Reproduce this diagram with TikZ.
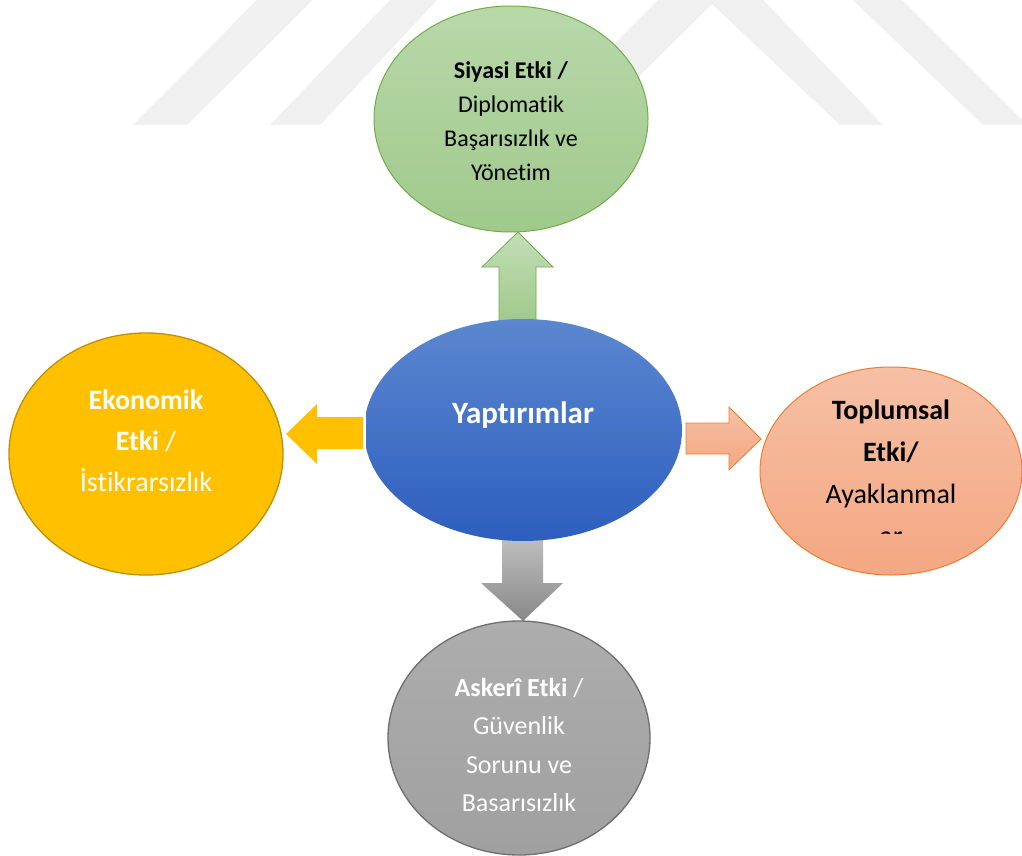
\documentclass[tikz,border=0pt]{standalone}
\usepackage{fontspec}
\setmainfont{Carlito}[Ligatures={NoCommon}]
\usetikzlibrary{shapes.geometric}
\definecolor{wm}{RGB}{240,240,240}
\definecolor{gTop}{HTML}{B8D8AA}
\definecolor{gBot}{HTML}{A0C98B}
\definecolor{gLine}{HTML}{70AD47}
\definecolor{yFill}{HTML}{FFC000}
\definecolor{yLine}{HTML}{BD9008}
\definecolor{oTop}{HTML}{F6C0A4}
\definecolor{oBot}{HTML}{F4A782}
\definecolor{oLine}{HTML}{ED7D31}
\definecolor{kTop}{HTML}{ADADAD}
\definecolor{kBot}{HTML}{A0A0A0}
\definecolor{kLine}{HTML}{6E6E6E}
\definecolor{bTop}{HTML}{5B87D0}
\definecolor{bBot}{HTML}{2E5EBE}
\definecolor{bLine}{HTML}{4472C4}
\begin{document}
\begin{tikzpicture}[x=1pt,y=-1pt,
  bubble/.style={ellipse, inner sep=0pt, outer sep=0pt, line width=1pt},
  label/.style={align=center, inner sep=0pt},
  blockarrow/.style={line width=0.8pt, line join=miter}]
\fill[white] (0,0) rectangle (1022,856);
\useasboundingbox (0,0) rectangle (1022,856);
% watermark
\fill[wm] (133,125) -- (257,0) -- (313,0) -- (187,125) -- cycle;
\fill[wm] (270,125) -- (390,0) -- (437,0) -- (320,125) -- cycle;
\fill[wm] (533,125) -- (658,0) -- (763,0) -- (883,125) -- (840,125) -- (712,4) -- (590,125) -- cycle;
\fill[wm] (853,0) -- (902,0) -- (1022,120) -- (1022,125) -- (983,125) -- cycle;
% block arrows
\draw[blockarrow, draw=gLine, top color=gTop!85!white, bottom color=gBot]
  (499,322) -- (499,267) -- (482,267) -- (518,232) -- (553,267) -- (536,267) -- (536,322) -- cycle;
\fill[yFill] (363,417) -- (317,417) -- (317,404) -- (286,434) -- (317,464) -- (317,449) -- (363,449) -- cycle;
\draw[blockarrow, draw=oLine, top color=oTop, bottom color=oBot]
  (686,423) -- (729,423) -- (729,407) -- (761,439) -- (729,470) -- (729,454) -- (686,454) -- cycle;
\shade[top color=kTop!80!white, bottom color=kBot!85!black]
  (502,540) -- (502,583) -- (481,583) -- (523,621) -- (563,583) -- (543,583) -- (543,540) -- cycle;
% ellipses
\node[bubble, minimum width=274pt, minimum height=226pt, draw=gLine, top color=gTop, bottom color=gBot] (siyasi) at (511,119) {};
\node[bubble, minimum width=274pt, minimum height=242pt, draw=yLine, fill=yFill, line width=1.3pt] (ekonomik) at (146,454) {};
\node[bubble, minimum width=262pt, minimum height=208pt, draw=oLine, top color=oTop, bottom color=oBot] (toplumsal) at (891,471) {};
\node[bubble, minimum width=262pt, minimum height=234pt, draw=kLine, top color=kTop, bottom color=kBot, line width=1.3pt] (askeri) at (519,738) {};
\begin{scope}
  \clip (366,300) rectangle (700,560);
  \node[bubble, minimum width=318pt, minimum height=222pt, top color=bTop, bottom color=bBot] (yap) at (523,430) {};
\end{scope}
% texts
\node[label, text=white, font=\fontsize{31}{36}\selectfont\bfseries] (yapT) at (523,415) {Yaptırımlar};
\node[label, text=black, font=\fontsize{24}{34}\selectfont] (siyasiT) at (511,121)
  {\textbf{Siyasi Etki /}\\Diplomatik\\Başarısızlık ve\\Yönetim};
\node[label, text=white, font=\fontsize{28}{41}\selectfont] (ekonomikT) at (146,441)
  {\textbf{Ekonomik}\\\textbf{Etki} /\\İstikrarsızlık};
\begin{scope}
  \clip (700,340) rectangle (1022,533);
  \node[label, text=black, font=\fontsize{28}{42}\selectfont] (toplumsalT) at (891,473)
    {\textbf{Toplumsal}\\\textbf{Etki/}\\Ayaklanmal\\ar};
\end{scope}
\node[label, text=white, font=\fontsize{26}{38.5}\selectfont] (askeriT) at (519,745)
  {\textbf{Askerî Etki} /\\Güvenlik\\Sorunu ve\\Basarısızlık};
\end{tikzpicture}
\end{document}
